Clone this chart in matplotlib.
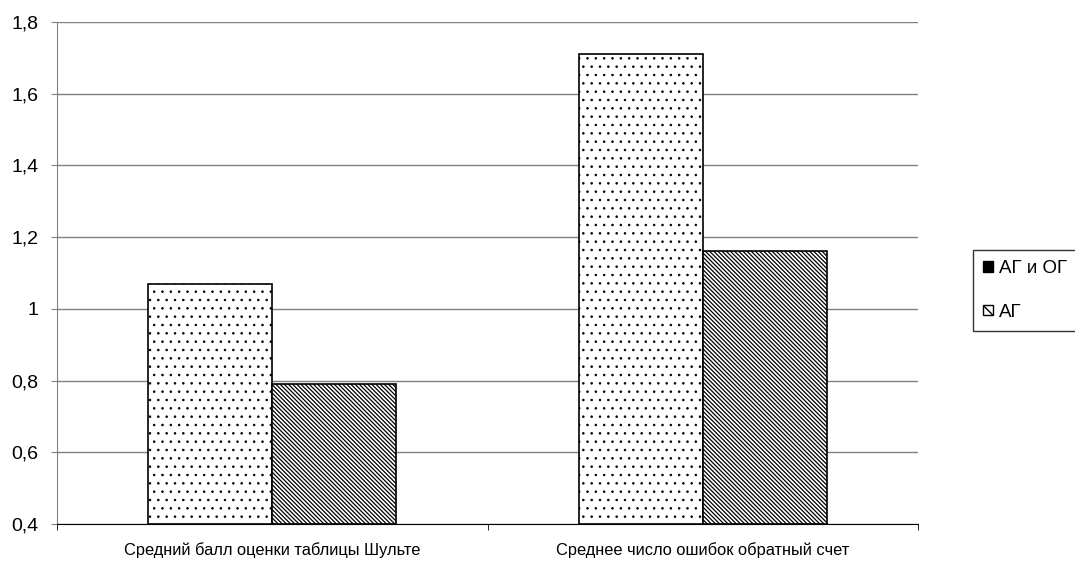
import numpy as np
import matplotlib.pyplot as plt
from matplotlib.patches import Patch

plt.rcParams['font.family'] = ['Liberation Sans', 'DejaVu Sans']

categories = ['Средний балл оценки таблицы Шульте', 'Среднее число ошибок обратный счет']
series_names = ['АГ и ОГ', 'АГ']
ag_og = [1.07, 1.71]
ag = [0.79, 1.16]
y_ticks = [0.4, 0.6, 0.8, 1.0, 1.2, 1.4, 1.6, 1.8]
y_tick_labels = ['0,4', '0,6', '0,8', '1', '1,2', '1,4', '1,6', '1,8']

# hatch patterns: fine dots and dense back-diagonal lines
DOTS = '..'
DIAG = chr(92) * 8

fig = plt.figure(figsize=(10.75, 5.61), dpi=100)
ax = fig.add_axes([57 / 1075, 37 / 561, 861 / 1075, 502 / 561])

x = np.arange(len(categories))
width = 0.288
base = y_ticks[0]

with plt.rc_context({'hatch.linewidth': 0.6}):
    ax.bar(x - width / 2, np.array(ag_og) - base, width, bottom=base,
           color='white', edgecolor='black', hatch=DOTS, linewidth=1.2, zorder=3)
with plt.rc_context({'hatch.linewidth': 0.9}):
    ax.bar(x + width / 2, np.array(ag) - base, width, bottom=base,
           color='white', edgecolor='black', hatch=DIAG, linewidth=1.2, zorder=3)

ax.set_xlim(-0.5, len(categories) - 0.5)
ax.set_ylim(y_ticks[0], y_ticks[-1])

# horizontal grid
ax.set_yticks(y_ticks)
ax.set_yticklabels(y_tick_labels)
ax.yaxis.grid(True, color='#808080', linewidth=1)
ax.set_axisbelow(True)
ax.tick_params(axis='y', direction='out', length=4.3, color='#808080',
               labelsize=14, pad=9)

# category labels centred, tick marks at category boundaries
ax.set_xticks(x)
ax.set_xticklabels(categories)
ax.set_xticks(np.arange(len(categories) + 1) - 0.5, minor=True)
ax.tick_params(axis='x', which='major', length=0, labelsize=11.8, pad=13)
ax.tick_params(axis='x', which='minor', direction='out', length=4.3, color='black')

for side in ['top', 'right']:
    ax.spines[side].set_visible(False)
ax.spines['left'].set_color('#808080')
ax.spines['bottom'].set_color('black')

with plt.rc_context({'hatch.linewidth': 0.6}):
    handles = [Patch(facecolor='black', edgecolor='black'),
               Patch(facecolor='white', edgecolor='black', hatch=chr(92) * 3)]
leg = fig.legend(handles, series_names, loc='upper left',
                 bbox_to_anchor=(973 / 1075, 1 - 250 / 561),
                 bbox_transform=fig.transFigure, borderaxespad=0,
                 fontsize=13.5, frameon=True, fancybox=False,
                 handlelength=0.5, handleheight=0.5, handletextpad=0.35,
                 labelspacing=1.4, borderpad=0.55)
leg.get_frame().set_edgecolor('black')
leg.get_frame().set_linewidth(1)

fig.savefig('out.png', dpi=100)
